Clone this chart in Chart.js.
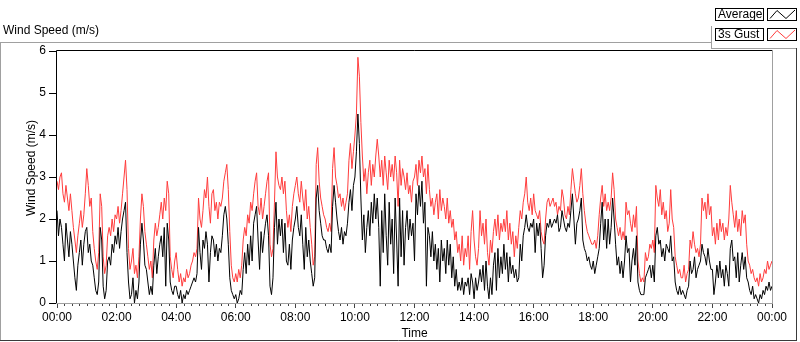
<!DOCTYPE html>
<html>
<head>
<meta charset="utf-8">
<script src="https://cdn.jsdelivr.net/npm/chart.js@4.4.0/dist/chart.umd.min.js"></script>
<style>
  body { margin: 0; background: #fff; }
  #wrap { position: relative; width: 800px; height: 342px; }
</style>
</head>
<body>
<div id="wrap"><canvas id="windChart"></canvas></div>
<script>
// 3 minute samples, 00:00 -> 24:00 (m/s), one row per hour
const average = [
  2.2,1.6,2.0,1.8,1.4, 1.0,1.9,1.5,1.1,1.7, 1.4,1.0,0.6,0.3,0.9, 1.2,1.5,0.9,1.4,1.7,
  1.8,1.2,1.4,1.0,0.9, 0.6,0.3,0.2,0.5,1.8, 1.5,0.4,0.1,0.3,1.0, 1.1,0.9,1.4,1.2,1.6,
  1.4,1.8,1.3,1.7,2.0, 2.2,2.4,1.2,0.5,0.1, 0.2,0.6,0.0,0.3,0.1, 0.5,1.4,1.9,1.5,0.9,
  0.8,0.5,0.2,0.4,0.2, 0.9,1.3,0.7,1.1,1.4, 1.6,1.1,1.8,0.4,1.9, 1.5,0.5,0.3,0.2,0.4,
  0.4,0.2,0.1,0.3,0.0, 0.2,0.1,0.3,0.2,0.3, 0.4,0.5,0.6,0.5,0.7, 1.8,1.2,0.8,1.5,1.3,
  1.7,1.4,0.5,1.2,1.6, 1.5,1.1,1.4,1.0,1.3, 1.2,1.6,2.1,2.3,2.0, 1.4,0.6,0.3,0.2,0.1,
  0.2,0.0,0.1,0.3,0.2, 0.8,1.2,0.7,1.4,0.9, 1.6,1.0,1.9,2.1,2.3, 1.5,0.8,1.7,1.2,1.6,
  1.9,2.1,1.6,0.4,0.2, 0.6,1.8,2.4,1.4,2.0, 1.6,2.0,1.2,1.9,1.0, 0.9,1.4,0.8,1.5,1.8,
  2.0,2.3,1.8,1.6,2.1, 1.4,0.8,1.8,1.1,1.5, 1.0,0.7,0.4,0.6,2.5, 2.8,2.2,1.9,1.6,1.5,
  1.5,1.3,1.2,1.4,1.2, 2.3,2.8,2.4,2.0,1.7, 1.5,1.8,1.4,1.7,1.6, 1.9,2.4,2.7,2.2,2.8,
  3.0,3.6,4.5,3.8,2.5, 1.5,2.1,1.2,1.8,2.2, 1.6,2.4,1.9,2.6,2.0, 2.5,1.8,0.4,2.2,1.2,
  2.6,1.6,0.9,2.4,1.4, 2.0,0.7,2.5,1.5,0.4, 2.5,1.1,2.2,0.9,1.8, 2.2,1.5,2.0,1.6,1.9,
  1.0,2.6,2.1,2.8,2.3, 2.9,1.9,2.4,0.4,1.8, 1.6,1.1,1.7,1.0,1.4, 0.8,1.3,0.5,1.5,1.0,
  1.3,0.7,1.5,0.9,1.4, 0.6,1.1,0.4,0.8,0.3, 0.5,0.3,0.6,0.2,0.5, 0.4,0.6,0.2,0.7,0.5,
  0.1,0.6,0.3,0.5,0.8, 0.5,0.9,0.3,1.0,0.4, 0.1,0.6,0.2,0.9,1.2, 0.3,1.3,0.6,1.1,0.7,
  1.4,0.8,1.2,0.5,1.1, 0.7,0.9,0.6,0.8,0.5, 0.6,1.4,1.0,1.6,1.8, 2.1,1.8,1.7,1.9,1.8,
  2.0,1.2,1.9,1.6,1.9, 1.3,0.6,0.9,1.6,1.9, 1.8,2.0,1.8,1.9,2.0, 1.9,2.1,1.7,1.8,2.2,
  2.0,1.8,1.7,1.9,1.8, 2.2,2.6,2.0,1.4,1.9, 2.0,2.2,2.5,1.5,1.3, 1.2,1.0,1.1,0.9,0.8,
  1.0,0.7,0.9,1.1,1.3, 1.9,2.4,1.5,2.0,1.3, 2.0,1.4,1.8,2.5,2.0, 1.4,0.9,1.1,0.7,1.0,
  0.6,1.0,1.6,1.2,1.3, 0.5,1.0,1.3,0.9,1.6, 0.5,0.3,0.2,0.2,0.2, 0.6,0.7,0.8,0.9,0.6,
  0.9,0.5,1.6,1.8,1.4, 1.5,1.1,1.3,1.0,1.4, 1.3,1.2,1.6,1.0,1.1, 0.5,0.3,0.2,0.4,0.2,
  0.3,0.2,0.1,0.3,0.4, 1.0,0.7,0.8,1.1,0.6, 0.8,0.9,1.0,1.4,1.2, 1.1,0.9,1.3,1.0,0.8,
  0.8,0.2,0.5,0.9,0.6, 1.0,0.6,0.8,0.4,0.9, 0.7,0.4,1.3,1.5,1.0, 1.1,0.6,1.2,0.5,0.9,
  1.2,0.8,1.1,0.6,0.5, 0.3,0.2,0.4,0.1,0.2, 0.1,0.0,0.2,0.1,0.3, 0.2,0.4,0.3,0.5,0.3,
  0.4
];

const gust = [
  2.9,2.7,3.0,3.1,2.6, 2.4,2.8,2.5,2.2,2.6, 2.2,1.8,1.5,1.2,1.6, 1.9,2.2,1.8,2.1,2.6,
  3.2,2.8,2.3,2.5,1.7, 1.3,1.0,0.8,1.2,2.6, 2.3,1.1,0.7,0.9,1.6, 1.8,1.6,2.0,1.7,2.1,
  2.0,2.3,1.9,2.2,2.6, 3.0,3.4,2.7,1.3,0.8, 1.0,1.3,0.7,0.9,0.6, 1.1,2.0,2.6,2.3,1.7,
  1.4,1.1,0.8,1.0,0.6, 1.5,1.9,1.6,1.8,2.1, 2.4,2.0,2.5,2.2,2.9, 2.6,1.1,0.8,0.6,1.0,
  1.2,0.8,0.5,0.7,0.4, 0.6,0.5,0.8,0.6,0.7, 0.9,1.0,1.2,1.1,1.3, 2.5,2.0,1.8,2.2,2.7,
  2.5,3.0,2.3,1.9,2.6, 2.7,2.2,2.4,2.0,2.4, 2.3,2.5,2.9,3.1,3.3, 2.7,1.7,0.9,0.6,0.5,
  0.7,0.5,0.8,0.6,0.9, 1.5,1.8,1.6,2.1,1.9, 2.4,2.2,2.6,2.9,3.1, 2.3,2.1,2.5,2.0,2.3,
  2.6,2.9,3.1,1.4,1.1, 1.3,2.4,3.6,3.0,2.8, 2.7,3.0,2.6,2.9,2.2, 1.8,2.1,1.7,2.3,2.6,
  2.8,3.0,2.6,2.4,2.9, 2.5,2.2,2.7,2.0,2.3, 1.8,1.4,0.9,1.1,3.3, 3.7,2.9,2.5,2.3,2.1,
  2.0,1.8,1.7,1.9,1.7, 3.2,3.7,3.0,2.8,2.5, 2.6,2.3,2.5,2.2,2.4, 2.6,3.4,3.8,3.2,3.6,
  4.0,4.5,5.85,5.4,4.3, 3.5,2.9,3.2,2.6,3.1, 3.4,2.8,3.3,3.0,3.5, 3.9,3.5,3.0,3.4,2.8,
  3.5,3.1,2.7,3.4,3.0, 3.3,2.9,3.5,3.1,2.3, 3.4,2.8,3.2,3.0,2.7, 3.1,2.6,2.8,2.4,2.9,
  3.0,3.3,2.8,3.4,3.1, 3.5,3.0,3.2,2.6,3.3, 2.7,2.3,2.5,2.1,2.4, 2.6,2.0,2.7,2.2,2.5,
  2.3,2.0,2.5,1.9,2.2, 1.8,2.0,1.5,1.7,1.2, 1.4,1.0,1.6,0.9,1.3, 1.1,1.6,0.8,1.7,2.2,
  1.5,1.1,0.9,1.3,2.2, 1.6,1.9,1.4,2.0,1.2, 0.9,1.5,1.2,1.7,2.0, 1.6,2.1,1.5,1.9,1.7,
  2.0,1.7,2.2,1.5,1.9, 1.4,1.7,1.1,1.6,1.3, 1.8,2.2,2.0,2.4,2.6, 3.0,2.4,2.2,2.5,2.1,
  2.6,2.2,2.1,2.0,2.2, 1.7,1.5,1.4,2.0,2.4, 2.5,2.3,2.4,2.5,2.3, 2.4,2.1,2.3,2.2,2.7,
  2.5,2.1,2.0,2.3,2.1, 2.7,3.2,2.9,2.6,2.4, 2.5,2.8,3.2,2.6,2.2, 1.9,1.7,1.6,1.5,1.4,
  1.4,1.5,1.3,1.6,2.1, 2.5,2.8,2.3,2.6,2.2, 2.4,2.2,2.5,3.1,2.7, 2.0,1.8,1.6,1.8,1.5,
  1.7,1.5,2.4,2.1,2.2, 1.9,1.7,2.1,1.8,2.3, 1.0,0.7,0.5,0.6,0.5, 1.2,1.0,1.1,1.4,1.3,
  1.5,1.2,2.8,2.5,2.3, 2.7,2.1,2.4,2.0,2.2, 1.7,1.9,2.7,2.0,1.8, 1.1,0.9,0.7,0.8,0.6,
  0.6,0.9,0.5,0.7,0.8, 1.5,1.3,1.7,1.4,1.2, 1.3,1.1,1.4,2.5,2.2, 2.4,2.0,2.6,2.1,2.3,
  1.6,1.8,1.4,1.9,1.5, 2.0,1.7,1.9,1.5,1.8, 1.6,2.0,2.8,2.4,2.1, 1.8,2.2,1.7,2.0,1.6,
  2.2,1.9,2.1,1.4,1.0, 0.9,0.7,0.8,0.6,0.5, 0.6,0.4,0.7,0.5,0.6, 0.8,0.7,1.0,0.8,0.9,
  1.0
];

const stepMinutes = 3;
const hours = average.map((_, i) => i * stepMinutes / 60);
const seriesNames = ["Average", "3s Gust"];
const seriesColors = ["#000000", "#ff3c3c"];

const FONT = "Liberation Sans";
Chart.defaults.font.family = FONT;
Chart.defaults.font.size = 12;
Chart.defaults.color = "#000";

function hourLabel(v) {
    return String(Math.round(v) % 24).padStart(2, "0") + ":00";
}

function line(ctx, x1, y1, x2, y2) {
    ctx.beginPath();
    ctx.moveTo(x1, y1);
    ctx.lineTo(x2, y2);
    ctx.stroke();
}

const framePlugin = {
    id: "frame",
    afterDraw(chart) {
        const ctx = chart.ctx;
        const a = chart.chartArea;
        const xs = chart.scales.x;
        ctx.save();
        ctx.lineWidth = 1;

        // minor ticks every 15 minutes
        ctx.strokeStyle = "#444";
        for (let m = 0; m <= 24 * 60; m += 15) {
            if (m % 120 === 0) continue;
            const px = Math.round(xs.getPixelForValue(m / 60)) + 0.5;
            line(ctx, px, a.bottom, px, a.bottom + 3);
        }

        // plot frame: dark top/left, grey bottom/right
        ctx.strokeStyle = "#000";
        line(ctx, a.left - 0.5, a.top - 0.5, a.right, a.top - 0.5);
        line(ctx, a.left - 0.5, a.top - 0.5, a.left - 0.5, a.bottom);
        ctx.strokeStyle = "#a0a0a0";
        line(ctx, a.left - 1, a.bottom + 0.5, a.right + 1, a.bottom + 0.5);
        line(ctx, a.right + 0.5, a.top - 1, a.right + 0.5, a.bottom + 1);

        // outer panel
        ctx.strokeStyle = "#a0a0a0";
        line(ctx, 0, 42.5, 712, 42.5);
        line(ctx, 0.5, 42, 0.5, 341);
        line(ctx, 711.5, 26, 711.5, 49);
        line(ctx, 711, 48.5, 797, 48.5);
        ctx.strokeStyle = "#3a3a3a";
        line(ctx, 0, 340.5, 797, 340.5);
        line(ctx, 796.5, 48, 796.5, 341);

        // titles
        ctx.fillStyle = "#000";
        ctx.font = "12px '" + FONT + "'";
        ctx.textBaseline = "middle";
        ctx.textAlign = "left";
        ctx.fillText("Wind Speed (m/s)", 3, 31);
        ctx.textAlign = "center";
        ctx.fillText("Time", (a.left + a.right) / 2, 334);
        ctx.save();
        ctx.translate(32, 168);
        ctx.rotate(-Math.PI / 2);
        ctx.fillText("Wind Speed (m/s)", 0, 0);
        ctx.restore();

        // legend
        seriesNames.forEach((name, i) => {
            const top = 8.5 + i * 20;
            ctx.strokeStyle = "#000";
            ctx.fillStyle = "#fff";
            ctx.fillRect(715.5, top, 48, 12);
            ctx.strokeRect(715.5, top, 48, 12);
            ctx.fillRect(767.5, top, 29, 12);
            ctx.strokeRect(767.5, top, 29, 12);
            ctx.fillStyle = "#000";
            ctx.textAlign = "left";
            ctx.fillText(name, 718, top + 6.5);
            ctx.strokeStyle = seriesColors[i];
            ctx.beginPath();
            ctx.moveTo(770, top + 10);
            ctx.lineTo(777, top + 2);
            ctx.lineTo(786, top + 10);
            ctx.lineTo(795, top + 1.5);
            ctx.stroke();
        });
        ctx.restore();
    }
};

new Chart(document.getElementById("windChart"), {
    type: "line",
    data: {
        datasets: [
            {
                label: seriesNames[0],
                data: hours.map((h, i) => ({ x: h, y: average[i] })),
                borderColor: seriesColors[0],
                borderWidth: 1,
                pointRadius: 0,
                tension: 0,
                order: 0
            },
            {
                label: seriesNames[1],
                data: hours.map((h, i) => ({ x: h, y: gust[i] })),
                borderColor: seriesColors[1],
                borderWidth: 1,
                pointRadius: 0,
                tension: 0,
                order: 1
            }
        ]
    },
    options: {
        responsive: true,
        maintainAspectRatio: false,
        animation: false,
        layout: { padding: { top: 51, right: 28, left: 0, bottom: 0 } },
        plugins: {
            legend: { display: false },
            tooltip: { enabled: false }
        },
        scales: {
            x: {
                type: "linear",
                min: 0,
                max: 24,
                afterFit: (scale) => { scale.height = 39; },
                border: { display: false },
                grid: { drawOnChartArea: false, tickLength: 5, color: "#444" },
                ticks: {
                    stepSize: 2,
                    autoSkip: false,
                    maxRotation: 0,
                    padding: 2,
                    callback: (v) => hourLabel(v)
                }
            },
            y: {
                min: 0,
                max: 6,
                afterFit: (scale) => { scale.width = 57; },
                border: { display: false },
                grid: { drawOnChartArea: false, tickLength: 8, color: "#000" },
                ticks: { stepSize: 1, padding: 3 }
            }
        }
    },
    plugins: [framePlugin]
});
</script>
</body>
</html>
